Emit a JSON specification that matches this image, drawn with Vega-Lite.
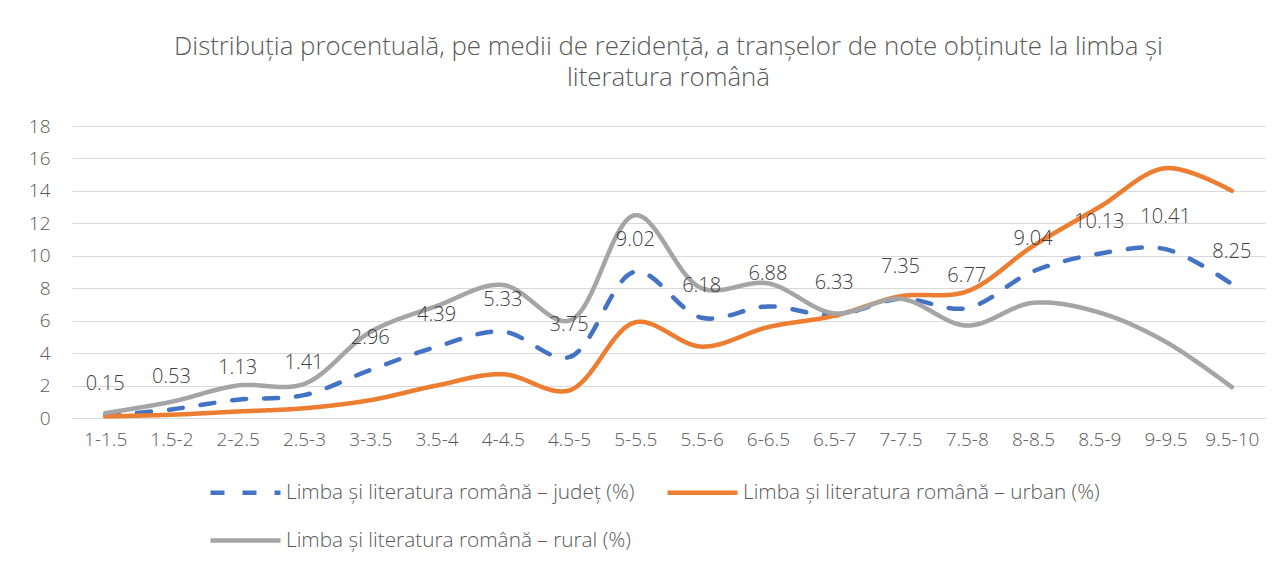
{
  "$schema": "https://vega.github.io/schema/vega-lite/v6.json",
  "width": 1193,
  "height": 292,
  "autosize": "none",
  "padding": {"left": 72, "top": 126, "right": 20, "bottom": 145},
  "background": "white",
  "title": {
    "text": ["Distribuția procentuală, pe medii de rezidență, a tranșelor de note obținute la limba și", "literatura română"],
    "font": "Open Sans",
    "fontSize": 25.8,
    "fontWeight": 300,
    "color": "#595959",
    "lineHeight": 31,
    "anchor": "middle",
    "offset": 25
  },
  "config": {
    "view": {"stroke": null},
    "font": "Open Sans"
  },
  "data": {
    "values": [
      {"cat": "1-1.5", "series": "Limba și literatura română – județ (%)", "value": 0.15},
      {"cat": "1.5-2", "series": "Limba și literatura română – județ (%)", "value": 0.53},
      {"cat": "2-2.5", "series": "Limba și literatura română – județ (%)", "value": 1.13},
      {"cat": "2.5-3", "series": "Limba și literatura română – județ (%)", "value": 1.41},
      {"cat": "3-3.5", "series": "Limba și literatura română – județ (%)", "value": 2.96},
      {"cat": "3.5-4", "series": "Limba și literatura română – județ (%)", "value": 4.39},
      {"cat": "4-4.5", "series": "Limba și literatura română – județ (%)", "value": 5.33},
      {"cat": "4.5-5", "series": "Limba și literatura română – județ (%)", "value": 3.75},
      {"cat": "5-5.5", "series": "Limba și literatura română – județ (%)", "value": 9.02},
      {"cat": "5.5-6", "series": "Limba și literatura română – județ (%)", "value": 6.18},
      {"cat": "6-6.5", "series": "Limba și literatura română – județ (%)", "value": 6.88},
      {"cat": "6.5-7", "series": "Limba și literatura română – județ (%)", "value": 6.33},
      {"cat": "7-7.5", "series": "Limba și literatura română – județ (%)", "value": 7.35},
      {"cat": "7.5-8", "series": "Limba și literatura română – județ (%)", "value": 6.77},
      {"cat": "8-8.5", "series": "Limba și literatura română – județ (%)", "value": 9.04},
      {"cat": "8.5-9", "series": "Limba și literatura română – județ (%)", "value": 10.13},
      {"cat": "9-9.5", "series": "Limba și literatura română – județ (%)", "value": 10.41},
      {"cat": "9.5-10", "series": "Limba și literatura română – județ (%)", "value": 8.25},
      {"cat": "1-1.5", "series": "Limba și literatura română – urban (%)", "value": 0.1},
      {"cat": "1.5-2", "series": "Limba și literatura română – urban (%)", "value": 0.2},
      {"cat": "2-2.5", "series": "Limba și literatura română – urban (%)", "value": 0.4},
      {"cat": "2.5-3", "series": "Limba și literatura română – urban (%)", "value": 0.6},
      {"cat": "3-3.5", "series": "Limba și literatura română – urban (%)", "value": 1.1},
      {"cat": "3.5-4", "series": "Limba și literatura română – urban (%)", "value": 2.0},
      {"cat": "4-4.5", "series": "Limba și literatura română – urban (%)", "value": 2.7},
      {"cat": "4.5-5", "series": "Limba și literatura română – urban (%)", "value": 1.7},
      {"cat": "5-5.5", "series": "Limba și literatura română – urban (%)", "value": 5.9},
      {"cat": "5.5-6", "series": "Limba și literatura română – urban (%)", "value": 4.4},
      {"cat": "6-6.5", "series": "Limba și literatura română – urban (%)", "value": 5.6},
      {"cat": "6.5-7", "series": "Limba și literatura română – urban (%)", "value": 6.3},
      {"cat": "7-7.5", "series": "Limba și literatura română – urban (%)", "value": 7.5},
      {"cat": "7.5-8", "series": "Limba și literatura română – urban (%)", "value": 7.8},
      {"cat": "8-8.5", "series": "Limba și literatura română – urban (%)", "value": 10.6},
      {"cat": "8.5-9", "series": "Limba și literatura română – urban (%)", "value": 13.0},
      {"cat": "9-9.5", "series": "Limba și literatura română – urban (%)", "value": 15.4},
      {"cat": "9.5-10", "series": "Limba și literatura română – urban (%)", "value": 14.0},
      {"cat": "1-1.5", "series": "Limba și literatura română – rural (%)", "value": 0.3},
      {"cat": "1.5-2", "series": "Limba și literatura română – rural (%)", "value": 1.0},
      {"cat": "2-2.5", "series": "Limba și literatura română – rural (%)", "value": 2.0},
      {"cat": "2.5-3", "series": "Limba și literatura română – rural (%)", "value": 2.1},
      {"cat": "3-3.5", "series": "Limba și literatura română – rural (%)", "value": 5.3},
      {"cat": "3.5-4", "series": "Limba și literatura română – rural (%)", "value": 6.9},
      {"cat": "4-4.5", "series": "Limba și literatura română – rural (%)", "value": 8.2},
      {"cat": "4.5-5", "series": "Limba și literatura română – rural (%)", "value": 6.0},
      {"cat": "5-5.5", "series": "Limba și literatura română – rural (%)", "value": 12.5},
      {"cat": "5.5-6", "series": "Limba și literatura română – rural (%)", "value": 8.0},
      {"cat": "6-6.5", "series": "Limba și literatura română – rural (%)", "value": 8.3},
      {"cat": "6.5-7", "series": "Limba și literatura română – rural (%)", "value": 6.45},
      {"cat": "7-7.5", "series": "Limba și literatura română – rural (%)", "value": 7.35},
      {"cat": "7.5-8", "series": "Limba și literatura română – rural (%)", "value": 5.7},
      {"cat": "8-8.5", "series": "Limba și literatura română – rural (%)", "value": 7.1},
      {"cat": "8.5-9", "series": "Limba și literatura română – rural (%)", "value": 6.5},
      {"cat": "9-9.5", "series": "Limba și literatura română – rural (%)", "value": 4.7},
      {"cat": "9.5-10", "series": "Limba și literatura română – rural (%)", "value": 1.9}
    ]
  },
  "encoding": {
    "x": {
      "field": "cat",
      "type": "ordinal",
      "scale": {"type": "point", "padding": 0.5, "domain": ["1-1.5","1.5-2","2-2.5","2.5-3","3-3.5","3.5-4","4-4.5","4.5-5","5-5.5","5.5-6","6-6.5","6.5-7","7-7.5","7.5-8","8-8.5","8.5-9","9-9.5","9.5-10"]},
      "axis": {
        "title": null,
        "labelAngle": 0,
        "ticks": false,
        "domain": true,
        "domainColor": "#d9d9d9",
        "domainWidth": 1,
        "labelFont": "Open Sans",
        "labelFontSize": 19,
        "labelFontWeight": 300,
        "labelColor": "#595959",
        "labelPadding": 12
      }
    },
    "y": {
      "field": "value",
      "type": "quantitative",
      "scale": {"domain": [0, 18], "nice": false},
      "axis": {
        "title": null,
        "values": [0,2,4,6,8,10,12,14,16,18],
        "ticks": false,
        "domain": false,
        "gridColor": "#d9d9d9",
        "gridWidth": 1,
        "labelFont": "Open Sans",
        "labelFontSize": 19,
        "labelFontWeight": 300,
        "labelColor": "#595959",
        "labelPadding": 22
      }
    }
  },
  "layer": [
    {
      "mark": {"type": "line", "interpolate": "catmull-rom", "strokeWidth": 4.5, "strokeCap": "round"},
      "encoding": {
        "color": {
          "field": "series",
          "type": "nominal",
          "scale": {
            "domain": ["Limba și literatura română – județ (%)", "Limba și literatura română – urban (%)", "Limba și literatura română – rural (%)"],
            "range": ["#4472C4", "#ED7D31", "#A5A5A5"]
          },
          "legend": {
            "title": null,
            "orient": "none",
            "legendX": 136,
            "legendY": 329,
            "columns": 2,
            "direction": "horizontal",
            "symbolType": "stroke",
            "symbolSize": 4900,
            "symbolStrokeWidth": 4.5,
            "labelFont": "Open Sans",
            "labelFontSize": 20.8,
            "labelFontWeight": 300,
            "labelColor": "#595959",
            "labelLimit": 600,
            "columnPadding": 23,
            "rowPadding": 0,
            "labelOffset": 3
          }
        },
        "strokeDash": {
          "field": "series",
          "type": "nominal",
          "scale": {
            "domain": ["Limba și literatura română – județ (%)", "Limba și literatura română – urban (%)", "Limba și literatura română – rural (%)"],
            "range": [[14, 18], [1, 0], [1, 0]]
          },
          "legend": {
            "title": null,
            "orient": "none",
            "legendX": 136,
            "legendY": 329,
            "columns": 2,
            "direction": "horizontal",
            "symbolType": "stroke",
            "symbolSize": 4900,
            "symbolStrokeWidth": 4.5,
            "labelFont": "Open Sans",
            "labelFontSize": 20.8,
            "labelFontWeight": 300,
            "labelColor": "#595959",
            "labelLimit": 600,
            "columnPadding": 23,
            "rowPadding": 0,
            "labelOffset": 3
          }
        },
        "order": {"field": "series", "type": "nominal"}
      }
    },
    {
      "transform": [{"filter": "datum.series === 'Limba și literatura română – județ (%)'"}],
      "mark": {"type": "text", "dy": -32, "font": "Open Sans", "fontSize": 20, "fontWeight": 300, "color": "#404040", "baseline": "middle"},
      "encoding": {"text": {"field": "value", "type": "quantitative", "format": ".2f"}}
    }
  ]
}
